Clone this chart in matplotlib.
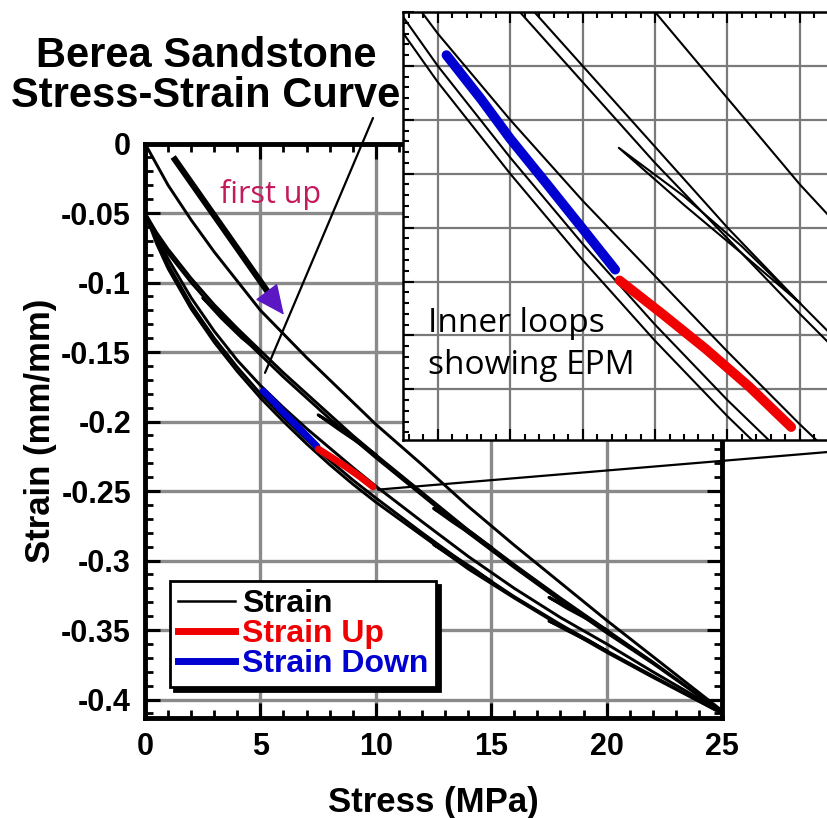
import matplotlib
matplotlib.use('Agg')  # no display
import matplotlib.pyplot as plt
from matplotlib.patches import ConnectionPatch
from matplotlib.ticker import MultipleLocator

# ---- data (stress in MPa, strain in mm/mm) ----
# first loading from zero
first_stress = [0, 1, 2, 3, 4, 5, 6, 7, 8, 9, 10, 12, 14, 16, 18, 20, 22, 25]
first_strain = [0, -0.030, -0.055, -0.078, -0.099, -0.120, -0.137, -0.154, -0.170,
                -0.186, -0.202, -0.231, -0.261, -0.289, -0.316, -0.343, -0.369, -0.408]

# later branches, all from 0 MPa (-0.05) to 25 MPa
branch_stress = [0, 0.5, 1, 2, 3, 4, 5, 6, 7, 8, 9, 10, 12, 14, 16, 18, 20, 22, 25]
reload_1 = [-0.050, -0.064, -0.076, -0.097, -0.116, -0.133, -0.149, -0.165, -0.180, -0.195,
            -0.210, -0.224, -0.251, -0.278, -0.303, -0.327, -0.350, -0.373, -0.409]
reload_2 = [-0.050, -0.066, -0.079, -0.100, -0.119, -0.136, -0.152, -0.168, -0.183, -0.198,
            -0.212, -0.226, -0.253, -0.280, -0.305, -0.329, -0.352, -0.374, -0.409]
unload_0 = [-0.050, -0.067, -0.083, -0.111, -0.135, -0.156, -0.174, -0.190, -0.205, -0.219,
            -0.233, -0.2465, -0.272, -0.297, -0.320, -0.341, -0.360, -0.380, -0.409]
unload_1 = [-0.050, -0.070, -0.087, -0.116, -0.140, -0.161, -0.180, -0.197, -0.213, -0.228,
            -0.242, -0.255, -0.280, -0.304, -0.326, -0.346, -0.365, -0.383, -0.410]
unload_2 = [-0.050, -0.072, -0.090, -0.119, -0.143, -0.164, -0.183, -0.200, -0.216, -0.231,
            -0.245, -0.258, -0.282, -0.306, -0.327, -0.347, -0.366, -0.384, -0.410]

# inner loops (down then back up)
loop_a_stress = [5.0, 4.2, 3.3, 2.5, 3.3, 4.2, 5.0]
loop_a_strain = [-0.1505, -0.1385, -0.1235, -0.1110, -0.1255, -0.1400, -0.1505]
loop_b_stress = [10.0, 9.2, 8.4, 7.5, 8.4, 9.2, 10.0]
loop_b_strain = [-0.2240, -0.2148, -0.2058, -0.1952, -0.2042, -0.2135, -0.2240]
loop_c_stress = [15.0, 14.2, 13.3, 12.5, 13.3, 14.2, 15.0]
loop_c_strain = [-0.2905, -0.2805, -0.2700, -0.2625, -0.2720, -0.2820, -0.2905]
loop_d_stress = [20.0, 19.2, 18.3, 17.5, 18.3, 19.2, 20.0]
loop_d_strain = [-0.3500, -0.3415, -0.3330, -0.3265, -0.3345, -0.3425, -0.3500]
loop_e_stress = [15.0, 14.2, 13.3, 12.5, 13.3, 14.2, 15.0]
loop_e_strain = [-0.3150, -0.3055, -0.2960, -0.2885, -0.2975, -0.3070, -0.3150]
loop_f_stress = [20.0, 19.2, 18.3, 17.5, 18.3, 19.2, 20.0]
loop_f_strain = [-0.3650, -0.3572, -0.3495, -0.3435, -0.3505, -0.3580, -0.3650]

# highlighted inner loop
down_stress = [5.12, 5.6, 6.0, 6.5, 7.0, 7.45]
down_strain = [-0.178, -0.1862, -0.1935, -0.2018, -0.2102, -0.2178]
up_stress = [7.51, 8.1, 8.7, 9.3, 9.88]
up_strain = [-0.2198, -0.2260, -0.2325, -0.2395, -0.2470]

x_ticks = [0, 5, 10, 15, 20, 25]
y_ticks = [0, -0.05, -0.1, -0.15, -0.2, -0.25, -0.3, -0.35, -0.4]
y_labels = ['0', '-0.05', '-0.1', '-0.15', '-0.2', '-0.25', '-0.3', '-0.35', '-0.4']

RED = '#f00000'
BLUE = '#0000d0'
GRID = '#8a8a8a'
BOLD = dict(family='Liberation Sans', weight='bold')

black_curves = [(first_stress, first_strain),
                (branch_stress, reload_1), (branch_stress, reload_2),
                (branch_stress, unload_0), (branch_stress, unload_1), (branch_stress, unload_2)]
loops = [(loop_a_stress, loop_a_strain), (loop_b_stress, loop_b_strain),
         (loop_c_stress, loop_c_strain), (loop_d_stress, loop_d_strain),
         (loop_e_stress, loop_e_strain), (loop_f_stress, loop_f_strain)]


def draw_curves(ax, lw, lw_col):
    for xs, ys in black_curves:
        ax.plot(xs, ys, color='black', lw=lw, zorder=3)
    for xs, ys in loops:
        ax.plot(xs, ys, color='black', lw=lw, zorder=3)
    ax.plot(down_stress, down_strain, color=BLUE, lw=lw_col, solid_capstyle='round', zorder=4)
    ax.plot(up_stress, up_strain, color=RED, lw=lw_col, solid_capstyle='round', zorder=4)


fig = plt.figure(figsize=(8.28, 8.18), dpi=100)

# ---- main axes ----
ax = fig.add_axes([145 / 828, 1 - 718 / 818, 577 / 828, 574.5 / 818])
ax.set_xlim(0, 25)
ax.set_ylim(-0.4133, 0)
draw_curves(ax, 2.1, 5)

ax.set_xticks(x_ticks)
ax.set_yticks(y_ticks)
ax.set_yticklabels(y_labels)
ax.xaxis.set_minor_locator(MultipleLocator(1))
ax.yaxis.set_minor_locator(MultipleLocator(0.01))
ax.grid(True, which='major', color=GRID, lw=2.4, zorder=1)
ax.set_axisbelow(True)
ax.tick_params(which='major', direction='in', length=11, width=2.2,
               top=True, right=True, labelsize=22, pad=10)
ax.tick_params(which='minor', direction='in', length=6, width=2, top=True, right=True)
for t in ax.get_xticklabels() + ax.get_yticklabels():
    t.set_fontfamily('Liberation Sans')
    t.set_fontweight('bold')
for s in ax.spines.values():
    s.set_linewidth(3.5)
    s.set_zorder(5)

ax.set_xlabel('Stress (MPa)', fontsize=25, **BOLD)
ax.set_ylabel('Strain (mm/mm)', fontsize=25, **BOLD)
ax.xaxis.set_label_coords(0.5, -0.118)
ax.yaxis.set_label_coords(-0.152, 0.5)

# "first up" arrow
ax.plot([1.22, 5.5], [-0.0097, -0.111], color='black', lw=4.5, solid_capstyle='butt', zorder=3)
ax.annotate('', xy=(6.09, -0.1248), xytext=(5.6, -0.114),
            arrowprops=dict(arrowstyle='-|>,head_length=1.2,head_width=0.55',
                            color='#5b17c4', lw=1, mutation_scale=16), zorder=4)
ax.text(5.43, -0.0425, 'first up', ha='center', va='baseline', color='#c41a5c',
        fontsize=22, family='Open Sans')

h = [plt.Line2D([], [], color='black', lw=1.8),
     plt.Line2D([], [], color=RED, lw=5),
     plt.Line2D([], [], color=BLUE, lw=5)]
leg = ax.legend(h, ['Strain', 'Strain Up', 'Strain Down'], loc='lower left',
                bbox_to_anchor=(0.043, 0.054), borderaxespad=0, fancybox=False,
                shadow={'ox': 3, 'oy': -3, 'facecolor': 'black', 'edgecolor': 'black', 'alpha': 1},
                prop=dict(family='Liberation Sans', weight='bold', size=23),
                handlelength=1.8, handletextpad=0.2, borderpad=0.25, labelspacing=0.0,
                framealpha=1)
leg.get_frame().set_edgecolor('black')
leg.get_frame().set_linewidth(2)
for t, c in zip(leg.get_texts(), ['black', RED, BLUE]):
    t.set_color(c)
leg.set_zorder(10)

# ---- inset ----
axin = fig.add_axes([403 / 828, 1 - 440 / 818, 457 / 828, 428 / 818])
axin.set_xlim(4.52, 10.83)
axin.set_ylim(-0.2494, -0.1700)
draw_curves(axin, 1.5, 7)
axin.xaxis.set_major_locator(MultipleLocator(1))
axin.yaxis.set_major_locator(MultipleLocator(0.01))
axin.xaxis.set_minor_locator(MultipleLocator(0.2))
axin.yaxis.set_minor_locator(MultipleLocator(0.002))
axin.grid(True, which='major', color='#7a7a7a', lw=1.6, zorder=1)
axin.set_axisbelow(True)
axin.tick_params(which='major', direction='in', length=8, width=1.5,
                 top=True, right=True, labelbottom=False, labelleft=False)
axin.tick_params(which='minor', direction='in', length=4, width=1.5, top=True, right=True)
for s in axin.spines.values():
    s.set_linewidth(1.8)
axin.text(0.055, 0.31, 'Inner loops\nshowing EPM', transform=axin.transAxes,
          ha='left', va='top', fontsize=24, family='Open Sans', linespacing=1.35)

# connector lines between the main plot and the inset
c1 = ConnectionPatch(xyA=(5.2, -0.165), coordsA=ax.transData,
                     xyB=(373 / 828, 1 - 118 / 818), coordsB=fig.transFigure,
                     color='black', lw=1.6)
c2 = ConnectionPatch(xyA=(10.1, -0.249), coordsA=ax.transData,
                     xyB=(1.0, 1 - 452 / 818), coordsB=fig.transFigure,
                     color='black', lw=1.6)
fig.add_artist(c1)
fig.add_artist(c2)

fig.text(206 / 828, 1 - 76 / 818, 'Berea Sandstone\nStress-Strain Curve', ha='center',
         va='center', fontsize=30, linespacing=1.0, **BOLD)

fig.savefig('out.png', dpi=100, facecolor='white')
